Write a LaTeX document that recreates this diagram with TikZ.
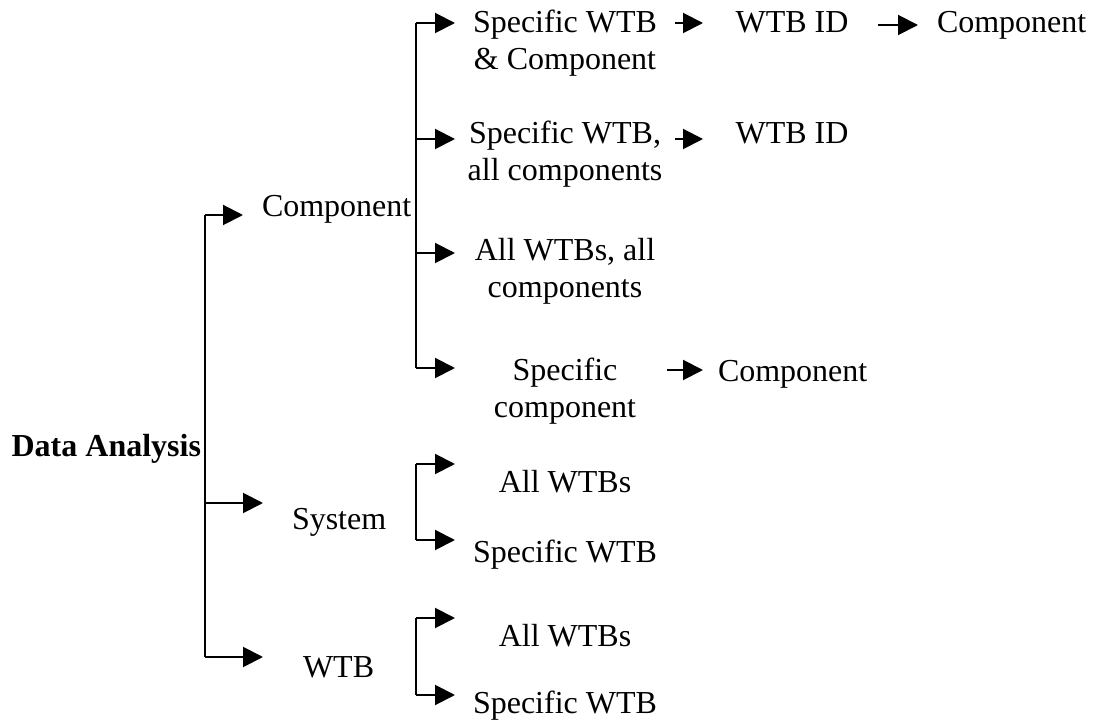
\documentclass[tikz,border=0pt]{standalone}
\usepackage{fontspec}
\setmainfont{Liberation Serif}
\usetikzlibrary{arrows.meta}
\tikzset{
  lbl/.style={inner sep=0pt, outer sep=0pt, font=\fontsize{24}{27.75}\selectfont, align=center},
  conn/.style={line width=1.5pt, black},
  arr/.style={conn, -{Triangle[length=15pt,width=15pt]}},
}
\begin{document}
\begin{tikzpicture}[x=0.75pt, y=-0.75pt]
\useasboundingbox (0,0) rectangle (1101,720);
% nodes (base anchor = baseline of the last line)
\node[lbl, anchor=base east, font=\fontsize{24}{27.75}\selectfont\bfseries] (da) at (201,457) {Data Analysis};
\node[lbl, anchor=base west] (comp) at (262,217) {Component};
\node[lbl, anchor=base west] (sys) at (292,530) {System};
\node[lbl, anchor=base west] (wtb) at (303,677) {WTB};
\node[lbl, anchor=base] (s1) at (565,70) {Specific WTB\\\& Component};
\node[lbl, anchor=base] (s2) at (565,181) {Specific WTB,\\all components};
\node[lbl, anchor=base] (s3) at (565,298) {All WTBs, all\\components};
\node[lbl, anchor=base] (s4) at (565,418) {Specific\\component};
\node[lbl, anchor=base] (sa) at (565,493) {All WTBs};
\node[lbl, anchor=base] (ss) at (565,562) {Specific WTB};
\node[lbl, anchor=base] (wa) at (565,647) {All WTBs};
\node[lbl, anchor=base] (ws) at (565,713) {Specific WTB};
\node[lbl, anchor=base] (id1) at (792,33) {WTB ID};
\node[lbl, anchor=base] (id2) at (792,144) {WTB ID};
\node[lbl, anchor=base west] (c3) at (718,382) {Component};
\node[lbl, anchor=base west] (c4) at (937,33) {Component};
% connector coordinates
\coordinate (t0) at (205,215);
\coordinate (t1) at (205,503);
\coordinate (t2) at (205,657);
\coordinate (tc) at (243,215);
\coordinate (ts) at (263,503);
\coordinate (tw) at (263,657);
\coordinate (b1) at (416,23);
\coordinate (b2) at (416,139);
\coordinate (b3) at (416,253);
\coordinate (b4) at (416,368);
\coordinate (e1) at (455,23);
\coordinate (e2) at (455,139);
\coordinate (e3) at (455,253);
\coordinate (e4) at (455,368);
\coordinate (sb1) at (416,464);
\coordinate (sb2) at (416,540);
\coordinate (se1) at (455,464);
\coordinate (se2) at (455,540);
\coordinate (wb1) at (416,618);
\coordinate (wb2) at (416,695);
\coordinate (we1) at (455,618);
\coordinate (we2) at (455,695);
% main trunk
\draw[conn] (t0) -- (t2);
\draw[arr] (t0) -- (tc);
\draw[arr] (t1) -- (ts);
\draw[arr] (t2) -- (tw);
% component bracket
\draw[conn] (b1) -- (b4);
\draw[arr] (b1) -- (e1);
\draw[arr] (b2) -- (e2);
\draw[arr] (b3) -- (e3);
\draw[arr] (b4) -- (e4);
% system bracket
\draw[conn] (sb1) -- (sb2);
\draw[arr] (sb1) -- (se1);
\draw[arr] (sb2) -- (se2);
% wtb bracket
\draw[conn] (wb1) -- (wb2);
\draw[arr] (wb1) -- (we1);
\draw[arr] (wb2) -- (we2);
% inline arrows
\coordinate (i1a) at (675,23);  \coordinate (i1b) at (703,23);
\coordinate (i2a) at (675,139); \coordinate (i2b) at (703,139);
\coordinate (i3a) at (667,370); \coordinate (i3b) at (703,370);
\coordinate (i4a) at (878,25);  \coordinate (i4b) at (918,25);
\draw[arr] (i1a) -- (i1b);
\draw[arr] (i2a) -- (i2b);
\draw[arr] (i3a) -- (i3b);
\draw[arr] (i4a) -- (i4b);
\end{tikzpicture}
\end{document}
